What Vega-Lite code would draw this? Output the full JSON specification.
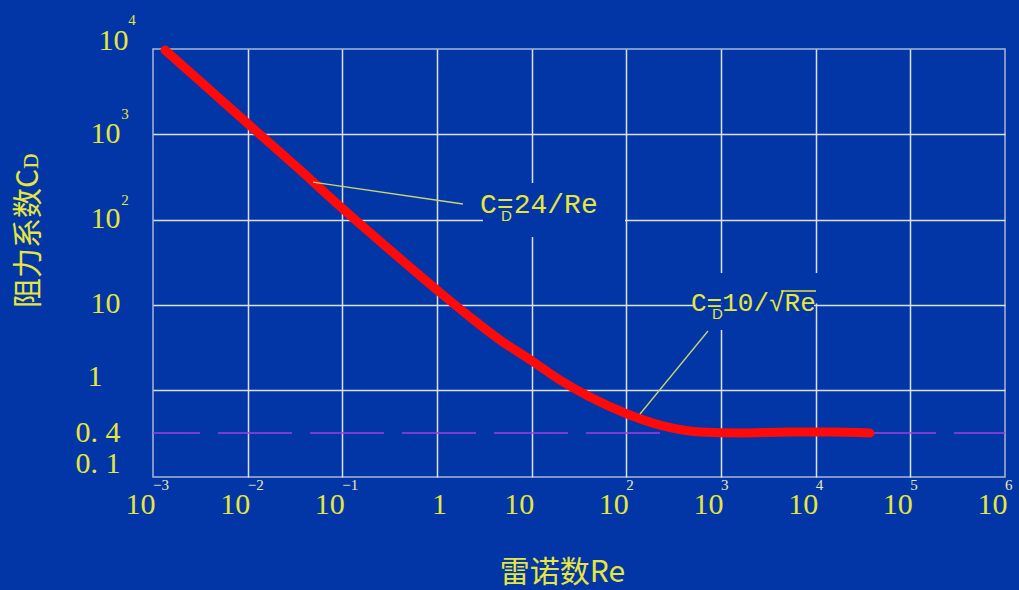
{
  "$schema": "https://vega.github.io/schema/vega-lite/v6.json",
  "width": 852,
  "height": 428,
  "autosize": {"type": "none"},
  "padding": {"left": 153, "top": 49, "right": 14, "bottom": 113},
  "config": {
    "background": "#0236a6",
    "view": {"stroke": "#a9b7d6", "strokeWidth": 1.5}
  },
  "datasets": {
    "curve": [
      {"Re": 0.00134, "CD": 9730}, {"Re": 0.00314, "CD": 4210}, {"Re": 0.0101, "CD": 1320},
      {"Re": 0.0357, "CD": 381}, {"Re": 0.0992, "CD": 136}, {"Re": 0.319, "CD": 43.9},
      {"Re": 1.0, "CD": 14.9}, {"Re": 2.23, "CD": 7.18}, {"Re": 4.63, "CD": 3.86},
      {"Re": 10.1, "CD": 2.19}, {"Re": 19.9, "CD": 1.31}, {"Re": 41.3, "CD": 0.861},
      {"Re": 102, "CD": 0.6}, {"Re": 227, "CD": 0.474}, {"Re": 600, "CD": 0.409},
      {"Re": 1590, "CD": 0.4}, {"Re": 5360, "CD": 0.409}, {"Re": 14200, "CD": 0.409},
      {"Re": 37500, "CD": 0.4}
    ],
    "boxes": [
      {"Re": 3.06, "Re2": 96.8, "CD": 268, "CD2": 62.3},
      {"Re": 506, "Re2": 10580, "CD": 23.6, "CD2": 10.34},
      {"Re": 506, "Re2": 9600, "CD": 10.34, "CD2": 5.06}
    ],
    "dash": [{"Re": 0.001, "Re2": 1000000, "CD": 0.4}],
    "leaders": [
      {"Re": 0.049, "CD": 275, "Re2": 1.88, "CD2": 152},
      {"Re": 139.5, "CD": 0.6, "Re2": 729, "CD2": 4.92}
    ],
    "overline": [{"Re": 4300, "Re2": 10080, "CD": 14.5}],
    "anno1": [{"Re": 2.85, "CD": 148, "t": "C=24/Re"}],
    "anno2": [{"Re": 482, "CD": 10.6, "t": "C=10/√Re"}],
    "subs": [{"Re": 2.85, "CD": 148, "s": "D"}, {"Re": 482, "CD": 10.6, "s": "D"}],
    "xexp": [
      {"Re": 0.001, "CD": 0.1, "e": "−3"}, {"Re": 0.01, "CD": 0.1, "e": "−2"},
      {"Re": 0.1, "CD": 0.1, "e": "−1"}, {"Re": 100, "CD": 0.1, "e": "2"},
      {"Re": 1000, "CD": 0.1, "e": "3"}, {"Re": 10000, "CD": 0.1, "e": "4"},
      {"Re": 100000, "CD": 0.1, "e": "5"}, {"Re": 1000000, "CD": 0.1, "e": "6"}
    ],
    "yexp": [{"Re": 0.001, "CD": 100, "e": "2"}, {"Re": 0.001, "CD": 1000, "e": "3"}],
    "yexp4": [{"Re": 0.001, "CD": 10000, "e": "4"}]
  },
  "encoding": {
    "x": {
      "field": "Re",
      "type": "quantitative",
      "scale": {"type": "log", "domain": [0.001, 1000000], "nice": false},
      "axis": {
        "title": "雷诺数Re",
        "values": [0.001, 0.01, 0.1, 1, 10, 100, 1000, 10000, 100000, 1000000],
        "labelExpr": "datum.value == 1 ? '1' : '10'",
        "labelAlign": {"condition": {"test": "datum.value == 1", "value": "center"}, "value": "right"},
        "labelOffset": 2,
        "labelBaseline": "top",
        "labelPadding": 12,
        "labelFont": "Liberation Serif",
        "labelFontSize": 30,
        "labelColor": "#e6e63c",
        "labelFlush": false,
        "labelOverlap": false,
        "labelBound": false,
        "ticks": false,
        "domain": false,
        "grid": true,
        "gridColor": {"condition": {"test": "datum.value == 0.001 || datum.value == 1000000", "value": "transparent"}, "value": "#dbe2ee"},
        "gridWidth": 1.5,
        "titleFont": "Noto Sans CJK SC",
        "titleFontSize": 30,
        "titleFontWeight": "normal",
        "titleColor": "#e6e63c",
        "titleX": 409,
        "titleY": 95,
        "titleAlign": "center",
        "titleBaseline": "middle"
      }
    },
    "y": {
      "field": "CD",
      "type": "quantitative",
      "scale": {"type": "log", "domain": [0.1, 0.4, 1, 10000], "range": [428, 384, 341, 0], "nice": false},
      "axis": {
        "title": "阻力系数Cᴅ",
        "values": [0.1, 0.4, 1, 10, 100, 1000, 10000],
        "labelExpr": "datum.value == 0.1 ? '0. 1' : datum.value == 0.4 ? '0. 4' : datum.value == 1 ? '1' : '10'",
        "labelAlign": "right",
        "labelBaseline": "middle",
        "labelPadding": {"condition": [{"test": "datum.value == 1", "value": 51}, {"test": "datum.value == 10000", "value": 25}], "value": 33},
        "labelOffset": {"condition": [{"test": "datum.value == 1 || datum.value == 0.1", "value": -14}, {"test": "datum.value == 10000", "value": -9}], "value": -1},
        "labelFont": "Liberation Serif",
        "labelFontSize": 30,
        "labelColor": "#e6e63c",
        "labelFlush": false,
        "labelOverlap": false,
        "labelBound": false,
        "ticks": false,
        "domain": false,
        "grid": true,
        "gridColor": {"condition": {"test": "datum.value == 0.1 || datum.value == 0.4 || datum.value == 10000", "value": "transparent"}, "value": "#dbe2ee"},
        "gridWidth": 1.5,
        "titleFont": "Noto Sans CJK SC",
        "titleFontSize": 30,
        "titleFontWeight": "normal",
        "titleColor": "#e6e63c",
        "titleX": -125,
        "titleY": 181,
        "titleAngle": 270,
        "titleAlign": "center",
        "titleBaseline": "middle"
      }
    }
  },
  "layer": [
    {
      "data": {"name": "boxes"},
      "mark": {"type": "rect", "fill": "#0236a6"},
      "encoding": {"x2": {"field": "Re2"}, "y2": {"field": "CD2"}}
    },
    {
      "data": {"name": "dash"},
      "mark": {"type": "rule", "stroke": "#a43ce6", "strokeWidth": 1.6, "strokeDash": [74, 18], "strokeDashOffset": 27},
      "encoding": {"x2": {"field": "Re2"}}
    },
    {
      "data": {"name": "curve"},
      "mark": {"type": "line", "stroke": "#ff0a0a", "strokeWidth": 9, "strokeCap": "round", "strokeJoin": "round", "interpolate": "monotone"},
      "encoding": {}
    },
    {
      "data": {"name": "leaders"},
      "mark": {"type": "rule", "stroke": "#c9d66e", "strokeWidth": 1.3},
      "encoding": {"x2": {"field": "Re2"}, "y2": {"field": "CD2"}}
    },
    {
      "data": {"name": "overline"},
      "mark": {"type": "rule", "stroke": "#e6e63c", "strokeWidth": 1.5},
      "encoding": {"x2": {"field": "Re2"}}
    },
    {
      "data": {"name": "anno1"},
      "mark": {"type": "text", "font": "Liberation Mono", "fontSize": 28, "color": "#e6e63c", "align": "left", "baseline": "middle"},
      "encoding": {"text": {"field": "t"}}
    },
    {
      "data": {"name": "anno2"},
      "mark": {"type": "text", "font": "Liberation Mono", "fontSize": 26, "color": "#e6e63c", "align": "left", "baseline": "middle"},
      "encoding": {"text": {"field": "t"}}
    },
    {
      "data": {"name": "subs"},
      "mark": {"type": "text", "font": "Liberation Sans", "fontSize": 15, "color": "#e6e63c", "align": "left", "baseline": "middle", "dx": 21, "dy": 11},
      "encoding": {"text": {"field": "s"}}
    },
    {
      "data": {"name": "xexp"},
      "mark": {"type": "text", "font": "Liberation Serif", "fontSize": 15, "color": "#ececb4", "align": "left", "baseline": "middle", "dx": 0, "dy": 8},
      "encoding": {"text": {"field": "e"}}
    },
    {
      "data": {"name": "yexp"},
      "mark": {"type": "text", "font": "Liberation Serif", "fontSize": 15, "color": "#e6e63c", "align": "center", "baseline": "middle", "dx": -28, "dy": -20},
      "encoding": {"text": {"field": "e"}}
    },
    {
      "data": {"name": "yexp4"},
      "mark": {"type": "text", "font": "Liberation Serif", "fontSize": 15, "color": "#e6e63c", "align": "center", "baseline": "middle", "dx": -21, "dy": -29},
      "encoding": {"text": {"field": "e"}}
    }
  ]
}
